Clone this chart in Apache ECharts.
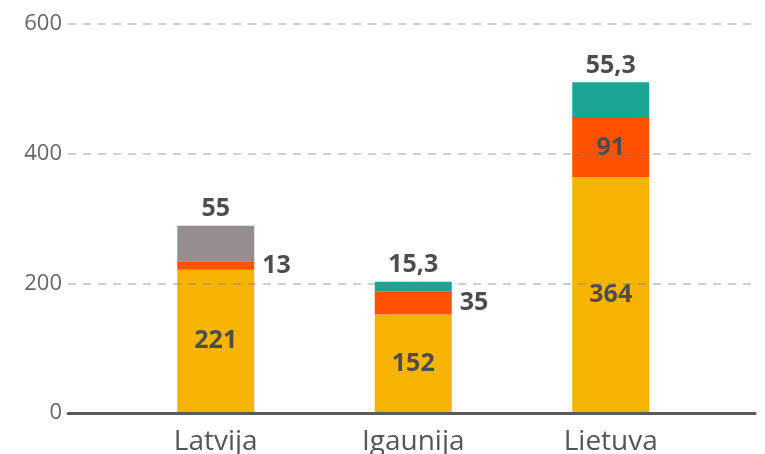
<!DOCTYPE html>
<html>
<head>
<meta charset="utf-8">
<script src="https://cdn.jsdelivr.net/npm/echarts@6/dist/echarts.min.js"></script>
<style>
  html, body { margin: 0; padding: 0; background: #fff; }
  #main { width: 765px; height: 454px; }
</style>
</head>
<body>
<div id="main"></div>
<script>
// dati
var countries = ['Latvija', 'Igaunija', 'Lietuva'];
var baseVals = [221, 152, 364];
var midVals = [13, 35, 91];
var topVals = [55, 15.3, 55.3];
var yTicks = [0, 200, 400, 600];

var colYellow = '#F6B400';
var colRed = '#FF5200';
var colTeal = '#1BA594';
var colGray = '#958D8D';

var chart = echarts.init(document.getElementById('main'));

function fmt(p) {
  return String(p.value).replace('.', ',');
}

var labelStyle = {
  show: true,
  color: '#4d4d4d',
  fontFamily: 'Open Sans',
  fontWeight: 'bold',
  fontSize: 25,
  formatter: fmt
};

// vidējam slānim etiķete blakus, ja josla par šauru
var midData = midVals.map(function (v) {
  var inside = v > 50;
  return {
    value: v,
    label: { position: inside ? 'inside' : 'right', distance: 8 }
  };
});
var topData = topVals.map(function (v, i) {
  return { value: v, itemStyle: { color: i === 0 ? colGray : colTeal } };
});

chart.setOption({
  animation: false,
  grid: [
    { left: 117, right: 55.5, top: 24, bottom: 41, outerBoundsMode: 'none' },   // joslas
    { left: 68, right: 10, top: 24, bottom: 41, outerBoundsMode: 'none' }        // režģis
  ],
  xAxis: [
    {
      gridIndex: 0,
      type: 'category',
      data: countries,
      axisLine: { show: false },
      axisTick: { show: false },
      axisLabel: {
        margin: 15,
        color: '#555',
        fontFamily: 'Open Sans',
        fontSize: 28
      }
    },
    {
      gridIndex: 1,
      type: 'category',
      data: countries,
      z: 10,
      axisLine: { show: true, lineStyle: { color: '#5a5a5a', width: 3 } },
      axisTick: { show: false },
      axisLabel: { show: false }
    }
  ],
  yAxis: [
    {
      gridIndex: 0,
      type: 'value',
      min: 0,
      max: 600,
      interval: 200,
      axisLine: { show: false },
      axisTick: { show: false },
      axisLabel: { show: false },
      splitLine: { show: false }
    },
    {
      gridIndex: 1,
      type: 'value',
      min: yTicks[0],
      max: yTicks[yTicks.length - 1],
      interval: 200,
      z: 10,
      axisLine: { show: false },
      axisTick: { show: false },
      axisLabel: {
        margin: 6,
        color: '#666',
        fontFamily: 'Open Sans',
        fontSize: 22
      },
      splitLine: {
        show: true,
        lineStyle: { color: 'rgba(120,120,120,0.35)', type: [8, 7], width: 2 }
      }
    }
  ],
  series: [
    {
      name: 'base',
      type: 'bar',
      stack: 'a',
      barWidth: 77,
      data: baseVals,
      itemStyle: { color: colYellow },
      label: Object.assign({}, labelStyle, { position: 'inside' })
    },
    {
      name: 'mid',
      type: 'bar',
      stack: 'a',
      barWidth: 77,
      data: midData,
      itemStyle: { color: colRed },
      label: labelStyle
    },
    {
      name: 'top',
      type: 'bar',
      stack: 'a',
      barWidth: 77,
      data: topData,
      label: Object.assign({}, labelStyle, { position: 'top', distance: 4 })
    }
  ]
});
</script>
</body>
</html>
